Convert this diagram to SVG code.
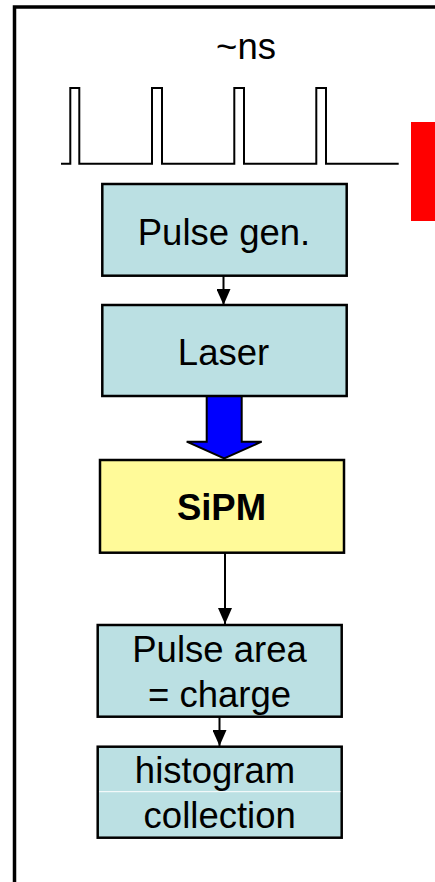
<svg xmlns="http://www.w3.org/2000/svg" width="435" height="882" viewBox="0 0 435 882">
<defs>
<style>
.box{fill:#BBE0E3;stroke:#000;stroke-width:2.5}
.sipm{fill:#FFFA99;stroke:#000;stroke-width:2.5}
.t{font-family:"Liberation Sans",Arial,sans-serif;font-size:36.5px;fill:#000;text-anchor:middle}
.line{stroke:#000;stroke-width:2;fill:none}
</style>
<marker id="ah" markerWidth="16" markerHeight="14" viewBox="0 0 16 14" refX="16" refY="7" orient="auto" markerUnits="userSpaceOnUse">
<path d="M0,0 L16,7 L0,14 Z" fill="#000"/>
</marker>
</defs>
<rect width="435" height="882" fill="#fff"/>
<path d="M14.5,882 V7 H435" fill="none" stroke="#000" stroke-width="3.5"/>
<g id="timing">
<text class="t" x="246" y="59">~ns</text>
<path class="line" d="M61,163.7 H70.3 V88 H79.3 V163.7 H152 V88 H162 V163.7 H234.3 V88 H244 V163.7 H316.3 V88 H326 V163.7 H398.7" stroke-width="2.2"/>
</g>
<rect id="red-bar" x="411" y="122" width="24" height="99" fill="#FF0000"/>
<g id="connectors">
<line class="line" x1="223.5" y1="276" x2="223.5" y2="305" marker-end="url(#ah)"/>
<path d="M206.7,396 H241.7 V441.7 H261.7 L224.2,458.3 L186.7,441.7 H206.7 Z" fill="#0000FF" stroke="#000" stroke-width="2"/>
<line class="line" x1="225" y1="553" x2="225" y2="624" marker-end="url(#ah)"/>
<line class="line" x1="219.5" y1="717" x2="219.5" y2="746" marker-end="url(#ah)"/>
</g>
<g id="pulse-gen">
<rect class="box" x="102.3" y="184" width="244.4" height="91.7"/>
<text class="t" x="224" y="245">Pulse gen.</text>
</g>
<g id="laser">
<rect class="box" x="102.3" y="305" width="244.4" height="91"/>
<text class="t" x="223.5" y="365">Laser</text>
</g>
<g id="sipm">
<rect class="sipm" x="100" y="460" width="244" height="92.7"/>
<text class="t" x="221.5" y="520" font-weight="bold">SiPM</text>
</g>
<g id="pulse-area">
<rect class="box" x="97.7" y="625" width="244" height="91.7"/>
<text class="t" x="219.5" y="662">Pulse area</text>
<text class="t" x="219.5" y="707">= charge</text>
</g>
<g id="histogram">
<rect class="box" x="97.7" y="746.7" width="244" height="91"/>
<line x1="99" y1="791.7" x2="340.5" y2="791.7" stroke="#fff" stroke-width="1"/>
<text class="t" x="215" y="783">histogram</text>
<text class="t" x="219.7" y="828">collection</text>
</g>
</svg>
